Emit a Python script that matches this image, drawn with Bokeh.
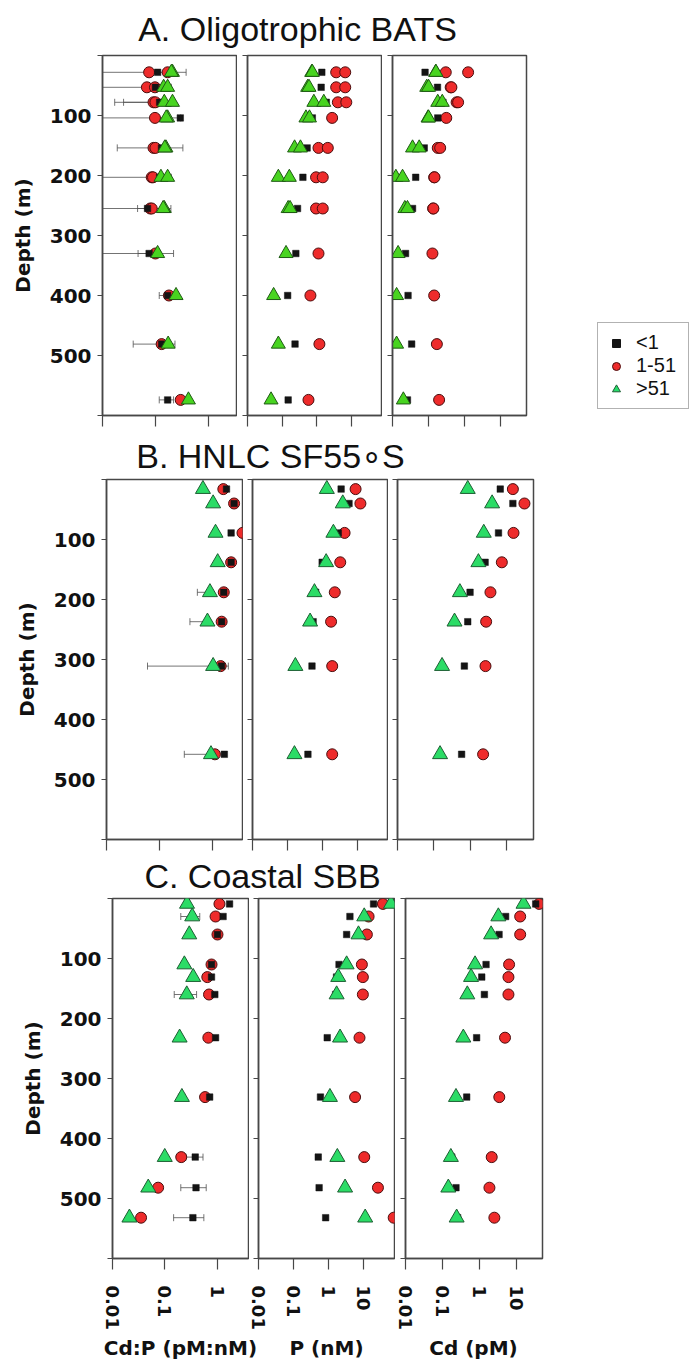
import numpy as np
from bokeh.plotting import figure
from bokeh.models import (Range1d, FixedTicker, PrintfTickFormatter, CustomJSTickFormatter,
                          Label, Legend, LegendItem)
from bokeh.layouts import row, column
from bokeh.embed import file_html
from bokeh.resources import INLINE

# ---------------------------------------------------------------- data
depth_ticks = [0, 100, 200, 300, 400, 500, 600]
conc_ticks = [0.01, 0.1, 1, 10]
class_labels = ["<1", "1-51", ">51"]
axis_titles = ["Cd:P (pM:nM)", "P (nM)", "Cd (pM)"]
site_titles = ["A. Oligotrophic BATS", "B. HNLC SF55\u2218S", "C. Coastal SBB"]

# A. BATS (two casts at the upper depths)
bats_lt1_depth = [28, 53, 78, 104, 154, 203, 255, 330, 400, 481, 574]
bats_lt1_cdp = [0.11, 0.10, 0.12, 0.295, 0.13, 0.12, 0.071, 0.076, 0.17, 0.131, 0.17]
bats_lt1_p = [1.41, 1.35, 1.9, 0.75, 0.53, 0.40, 0.28, 0.25, 0.145, 0.237, 0.15]
bats_lt1_cd = [0.08, 0.177, 0.25, 0.18, 0.076, 0.044, 0.036, 0.023, 0.027, 0.034, 0.026]

bats_mid_depth = [28, 28, 53, 53, 78, 78, 104, 154, 154, 203, 203, 255, 255, 330, 400, 481, 574]
bats_mid_cdp = [0.076, 0.17, 0.069, 0.098, 0.092, 0.10, 0.098, 0.092, 0.10, 0.085, 0.09,
                0.08, 0.085, 0.10, 0.18, 0.131, 0.30]
bats_mid_p = [3.67, 6.7, 3.67, 6.7, 4.1, 7.2, 2.8, 1.13, 2.1, 0.96, 1.5, 0.96, 1.5, 1.13,
              0.66, 1.2, 0.58]
bats_mid_cd = [0.30, 1.25, 0.41, 0.43, 0.60, 0.66, 0.31, 0.18, 0.21, 0.143, 0.146, 0.134,
               0.136, 0.128, 0.143, 0.17, 0.196]

bats_gt51_depth = [28, 28, 53, 53, 78, 78, 104, 104, 154, 154, 203, 203, 255, 255, 330, 400, 481, 574]
bats_gt51_cdp = [0.21, 0.20, 0.143, 0.17, 0.147, 0.21, 0.17, 0.16, 0.158, 0.15, 0.127, 0.17,
                 0.147, 0.14, 0.11, 0.245, 0.174, 0.42]
bats_gt51_p = [0.72, 0.75, 0.55, 0.60, 0.83, 1.61, 0.49, 0.62, 0.23, 0.34, 0.078, 0.162,
               0.15, 0.17, 0.13, 0.057, 0.078, 0.048]
bats_gt51_cd = [0.158, 0.16, 0.089, 0.10, 0.18, 0.24, 0.097, 0.10, 0.036, 0.055, 0.0124,
                0.019, 0.022, 0.026, 0.0143, 0.013, 0.013, 0.020]

bats_err_depth = [28, 53, 78, 78, 104, 154, 203, 255, 255, 330, 330, 400, 481, 574]
bats_err_lo = [0.001, 0.001, 0.017, 0.025, 0.001, 0.019, 0.001, 0.046, 0.001, 0.047, 0.001,
               0.118, 0.038, 0.118]
bats_err_hi = [0.38, 0.20, 0.20, 0.20, 0.30, 0.33, 0.20, 0.196, 0.15, 0.22, 0.12, 0.21,
               0.234, 0.22]

# B. HNLC SF55S
hnlc_depth = [16, 40, 89, 138, 188, 237, 311, 458]
hnlc_lt1_cdp = [1.8, 2.5, 2.2, 2.2, 1.6, 1.46, 1.45, 1.64]
hnlc_mid_cdp = [1.57, 2.5, 3.6, 2.2, 1.6, 1.46, 1.4, 1.09]
hnlc_gt51_cdp = [0.65, 1.01, 1.12, 1.23, 0.88, 0.79, 1.01, 0.92]
hnlc_lt1_p = [3.5, 5.9, 2.9, 1.0, 0.65, 0.55, 0.51, 0.39]
hnlc_mid_p = [9.1, 12.5, 4.4, 3.3, 2.3, 1.8, 1.94, 1.94]
hnlc_gt51_p = [1.36, 3.9, 2.1, 1.3, 0.6, 0.45, 0.17, 0.16]
hnlc_lt1_cd = [6.7, 14.9, 6.0, 2.57, 0.99, 0.855, 0.69, 0.58]
hnlc_mid_cd = [14.9, 31, 15.5, 7.4, 3.6, 2.74, 2.63, 2.26]
hnlc_gt51_cd = [0.855, 4.0, 2.36, 1.68, 0.52, 0.37, 0.168, 0.148]

hnlc_err_depth = [188, 237, 311, 458]
hnlc_err_lo = [0.51, 0.37, 0.059, 0.29]
hnlc_err_hi = [0.90, 0.80, 1.95, 0.92]

# C. Coastal SBB
sbb_depth = [9, 30, 60, 110, 131, 160, 232, 331, 431, 482, 532]
sbb_lt1_cdp = [1.7, 1.28, 1.0, 0.77, 0.77, 0.89, 0.92, 0.71, 0.377, 0.39, 0.34]
sbb_mid_cdp = [1.09, 0.92, 1.0, 0.77, 0.64, 0.69, 0.67, 0.58, 0.204, 0.074, 0.035]
sbb_gt51_cdp = [0.263, 0.33, 0.29, 0.234, 0.345, 0.26, 0.19, 0.21, 0.099, 0.048, 0.021]
sbb_lt1_p = [19.4, 4.1, 3.3, 2.0, 1.7, 1.6, 0.92, 0.59, 0.51, 0.54, 0.83]
sbb_mid_p = [36, 14, 12.5, 9.0, 9.6, 9.6, 7.7, 5.75, 10.5, 25.9, 73]
sbb_gt51_p = [61, 10.5, 7.2, 3.3, 1.9, 1.71, 2.14, 1.1, 1.79, 2.98, 11.2]
sbb_lt1_cd = [34, 5.2, 3.45, 1.53, 1.17, 1.38, 0.85, 0.457, 0.18, 0.234, 0.26]
sbb_mid_cd = [42, 12.9, 12.9, 6.45, 6.2, 6.2, 5.0, 3.5, 2.18, 1.89, 2.57]
sbb_gt51_cd = [15.9, 3.3, 2.1, 0.77, 0.6, 0.475, 0.37, 0.234, 0.17, 0.145, 0.244]

sbb_err_depth = [30, 160, 331, 431, 482, 532]
sbb_err_lo = [0.20, 0.15, 0.18, 0.25, 0.20, 0.146]
sbb_err_hi = [0.46, 0.40, 0.24, 0.53, 0.61, 0.55]

# ---------------------------------------------------------------- styling
INK = "#474747"
RED, RED_EDGE = "#ee2b2b", "#4a0e0e"
BLACK = "#141414"
TICK_FONT = "DejaVu Sans"
TITLE_FONT = "Liberation Sans"

sites = [
    dict(lt1=(bats_lt1_depth, [bats_lt1_cdp, bats_lt1_p, bats_lt1_cd]),
         mid=(bats_mid_depth, [bats_mid_cdp, bats_mid_p, bats_mid_cd]),
         gt51=(bats_gt51_depth, [bats_gt51_cdp, bats_gt51_p, bats_gt51_cd]),
         err=(bats_err_depth, bats_err_lo, bats_err_hi),
         green=("#48d420", "#1f5a14"), tri=14,
         widths=[134, 134, 134], borders=[(102, 1), (10, 1), (10, 2)],
         x_hi=[3.4, 75, 52]),
    dict(lt1=(hnlc_depth, [hnlc_lt1_cdp, hnlc_lt1_p, hnlc_lt1_cd]),
         mid=(hnlc_depth, [hnlc_mid_cdp, hnlc_mid_p, hnlc_mid_cd]),
         gt51=(hnlc_depth, [hnlc_gt51_cdp, hnlc_gt51_p, hnlc_gt51_cd]),
         err=(hnlc_err_depth, hnlc_err_lo, hnlc_err_hi),
         green=("#2bdc66", "#1d5e33"), tri=15,
         widths=[136, 135, 136], borders=[(106, 1), (9, 1), (9, 2)],
         x_hi=[3.6, 75, 55]),
    dict(lt1=(sbb_depth, [sbb_lt1_cdp, sbb_lt1_p, sbb_lt1_cd]),
         mid=(sbb_depth, [sbb_mid_cdp, sbb_mid_p, sbb_mid_cd]),
         gt51=(sbb_depth, [sbb_gt51_cdp, sbb_gt51_p, sbb_gt51_cd]),
         err=(sbb_err_depth, sbb_err_lo, sbb_err_hi),
         green=("#2bdc66", "#1d5e33"), tri=15,
         widths=[136, 136, 137], borders=[(112, 1), (9, 1), (10, 2)],
         x_hi=[3.9, 77, 52]),
]

FRAME_H = 360
BLANK = CustomJSTickFormatter(code="return ''")


def make_panel(site, col, last_row):
    fw = site["widths"][col]
    left, right = site["borders"][col]
    bottom = 75 if last_row else 12
    p = figure(x_axis_type="log", x_range=Range1d(0.01, site["x_hi"][col]),
               y_range=Range1d(600, 0), frame_width=fw, frame_height=FRAME_H,
               min_border_left=left, min_border_right=right, min_border_top=2,
               min_border_bottom=bottom, output_backend="svg", toolbar_location=None)
    p.grid.visible = False
    p.outline_line_color = INK
    p.outline_line_width = 1.5
    p.background_fill_color = "white"

    for ax in (p.xaxis[0], p.yaxis[0]):
        ax.axis_line_color = INK
        ax.axis_line_width = 1.5
        ax.major_tick_line_color = INK
        ax.major_tick_line_width = 1.2
        ax.minor_tick_line_color = None
        ax.major_tick_in = 0

    # depth axis
    ya = p.yaxis[0]
    ya.ticker = FixedTicker(ticks=depth_ticks)
    ya.major_tick_out = 5
    if col == 0:
        ya.major_label_overrides = {0: "", 600: ""}
        ya.major_label_text_font = TICK_FONT
        ya.major_label_text_font_style = "bold"
        ya.major_label_text_font_size = "20px"
        ya.major_label_text_color = "#111111"
        ya.major_label_standoff = 6
        ya.axis_label = "Depth (m)"
        ya.axis_label_text_font = TICK_FONT
        ya.axis_label_text_font_style = "bold"
        ya.axis_label_text_font_size = "20px"
        ya.axis_label_text_color = "#111111"
        ya.axis_label_standoff = 12
    else:
        ya.formatter = BLANK
        ya.major_label_text_font_size = "1px"
        ya.major_label_standoff = 0

    # concentration axis
    xa = p.xaxis[0]
    xa.ticker = FixedTicker(ticks=conc_ticks)
    xa.major_tick_out = 11
    if last_row:
        xa.formatter = PrintfTickFormatter(format="%g")
        xa.major_label_orientation = "vertical"
        xa.major_label_text_font = TICK_FONT
        xa.major_label_text_font_style = "bold"
        xa.major_label_text_font_size = "18px"
        xa.major_label_text_color = "#111111"
        xa.major_label_standoff = 16
    else:
        xa.formatter = BLANK
        xa.major_label_text_font_size = "1px"
        xa.major_label_standoff = 0

    # error bars on the Cd:P ratio
    if col == 0:
        ed, lo, hi = site["err"]
        p.segment(x0=lo, y0=ed, x1=hi, y1=ed, line_color="#505050", line_width=1,
                  line_alpha=0.8)
        p.scatter(x=lo + hi, y=ed + ed, marker="dash", angle=np.pi / 2, size=7,
                  line_color="#505050", line_width=1, line_alpha=0.8)

    d, vals = site["mid"]
    p.scatter(x=vals[col], y=d, marker="circle", size=11, fill_color=RED,
              line_color=RED_EDGE, line_width=1)
    d, vals = site["lt1"]
    p.scatter(x=vals[col], y=d, marker="square", size=6.5, fill_color=BLACK,
              line_color=BLACK, line_width=0.5)
    d, vals = site["gt51"]
    gfill, gedge = site["green"]
    p.scatter(x=vals[col], y=d, marker="triangle", size=site["tri"], fill_color=gfill,
              line_color=gedge, line_width=1)
    return p


def text_strip(texts, height, centers, cy_from_top, font, size, style="normal"):
    t = figure(width=695, height=height, x_range=Range1d(0, 1), y_range=Range1d(0, 1),
               x_axis_location=None, y_axis_location=None, min_border=0,
               output_backend="svg", toolbar_location=None)
    t.grid.visible = False
    t.outline_line_color = None
    for text, cx in zip(texts, centers):
        t.add_layout(Label(x=cx, y=height - cy_from_top, x_units="screen", y_units="screen",
                           text=text, text_align="center", text_baseline="middle",
                           text_font=font, text_font_size=size, text_font_style=style,
                           text_color="#111111"))
    return t


def legend_box(height):
    lf = figure(width=695 - 528, height=height, x_range=Range1d(0, 1), y_range=Range1d(0, 1),
                x_axis_location=None, y_axis_location=None, min_border=0,
                output_backend="svg", toolbar_location=None)
    lf.grid.visible = False
    lf.outline_line_color = None
    # one proxy point per class, kept outside the visible range; only the keys show
    r1 = lf.scatter(x=[5], y=[5], marker="square", size=7, fill_color=BLACK, line_color=BLACK)
    r2 = lf.scatter(x=[5], y=[5], marker="circle", size=11, fill_color=RED, line_color=RED_EDGE)
    r3 = lf.scatter(x=[5], y=[5], marker="triangle", size=15, fill_color="#27dc6a",
                    line_color="#1d5e33")
    leg = Legend(items=[LegendItem(label=class_labels[0], renderers=[r1]),
                        LegendItem(label=class_labels[1], renderers=[r2]),
                        LegendItem(label=class_labels[2], renderers=[r3])],
                 location=(69, 6), orientation="vertical")
    leg.label_text_font = TITLE_FONT
    leg.label_text_font_size = "20px"
    leg.label_text_color = "#111111"
    leg.glyph_width = 20
    leg.glyph_height = 20
    leg.label_height = 20
    leg.label_width = 44
    leg.spacing = 0
    leg.padding = 8
    leg.margin = 0
    leg.label_standoff = 10
    leg.border_line_color = "#666666"
    leg.border_line_width = 1
    leg.background_fill_alpha = 1
    lf.add_layout(leg)
    return lf


rows = []
strips = [(53, 297, 28), (50, 270, 28), (45, 262, 24)]
for i, site in enumerate(sites):
    last = i == len(sites) - 1
    h, cx, cy = strips[i]
    rows.append(text_strip([site_titles[i]], h, [cx], cy, TITLE_FONT, "34px"))
    panels = [make_panel(site, c, last) for c in range(3)]
    if i == 0:
        panels.append(legend_box(2 + FRAME_H + 12))
    rows.append(row(*panels, spacing=0))

# variable names under the bottom row, centred on each frame
rows.append(text_strip(axis_titles, 28, [180, 326, 473], 14, TICK_FONT, "20px", "bold"))

page = column(*rows, spacing=0)
open("out.html", "w").write(file_html(page, INLINE))
